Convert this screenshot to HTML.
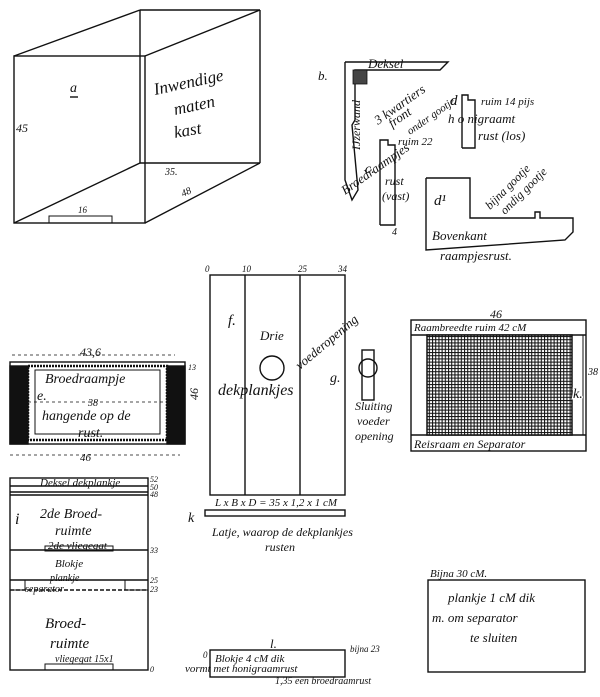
<!DOCTYPE html>
<html><head><style>
body{margin:0;background:#fff;}
svg text{font-family:"Liberation Serif",serif;font-style:italic;fill:#111;}
</style></head><body>
<svg width="600" height="692" viewBox="0 0 600 692" xmlns="http://www.w3.org/2000/svg" stroke="#111" fill="none" stroke-width="1.4">
<defs>
<pattern id="g" width="3.2" height="3.2" patternUnits="userSpaceOnUse">
<rect width="3.2" height="3.2" fill="#fff" stroke="none"/>
<path d="M0 0.5H3.2M0.5 0V3.2" stroke="#111" stroke-width="1.1"/>
</pattern>
</defs>
<!-- box a -->
<rect x="14" y="56" width="131" height="167"/>
<line x1="14" y1="56" x2="140" y2="10"/>
<line x1="140" y1="10" x2="260" y2="10"/>
<line x1="140" y1="10" x2="140" y2="163"/>
<line x1="145" y1="56" x2="260" y2="10"/>
<line x1="260" y1="10" x2="260" y2="163"/>
<line x1="145" y1="223" x2="260" y2="163"/>
<line x1="140" y1="163" x2="260" y2="163"/>
<line x1="14" y1="223" x2="140" y2="163"/>
<rect x="49" y="216" width="63" height="7" stroke-width="1"/>
<g stroke="none" font-size="14">
<text x="70" y="92">a</text><line x1="70" y1="97" x2="78" y2="97" stroke="#111"/>
<text x="16" y="132" font-size="12">45</text>
<text x="155" y="95" font-size="17" transform="rotate(-12 155 95)">Inwendige</text>
<text x="175" y="115" font-size="17" transform="rotate(-12 175 115)">maten</text>
<text x="175" y="138" font-size="17" transform="rotate(-10 175 138)">kast</text>
<text x="165" y="175" font-size="10">35.</text><text x="183" y="197" font-size="10" transform="rotate(-25 183 197)">48</text><text x="78" y="213" font-size="9">16</text>
</g>
<!-- c / d region -->
<polyline points="345,62 448,62 440,70 355,70 355,120 352,125 358,190 352,200 345,180 345,62"/>
<rect x="353" y="70" width="14" height="14" fill="#444" stroke-width="0.8"/>
<polyline points="380,225 380,140 388,140 388,145 395,145 395,225 380,225"/>
<polyline points="462,148 462,95 468,95 468,100 475,100 475,148 462,148"/>
<polyline points="426,178 426,250 565,240 573,232 573,218 540,218 540,212 535,212 535,218 470,218 470,178 426,178"/>
<g stroke="none">
<text x="368" y="68" font-size="13">Deksel</text>
<text x="318" y="80" font-size="13">b.</text>
<text x="360" y="150" font-size="12" transform="rotate(-90 360 150)">IJzerwand</text>
<text x="378" y="125" font-size="13" transform="rotate(-35 378 125)">3 kwartiers</text>
<text x="392" y="128" font-size="13" transform="rotate(-35 392 128)">front</text>
<text x="410" y="135" font-size="11" transform="rotate(-35 410 135)">onder gootje</text>
<text x="398" y="145" font-size="11">ruim 22</text>
<text x="365" y="173" font-size="14">c.</text>
<text x="345" y="195" font-size="13" transform="rotate(-35 345 195)">Broedraampjes</text>
<text x="385" y="185" font-size="12">rust</text><text x="382" y="200" font-size="12">(vast)</text>
<text x="481" y="105" font-size="11">ruim 14 pijs</text>
<text x="450" y="105" font-size="15">d</text>
<text x="448" y="123" font-size="13">h o nigraamt</text>
<text x="478" y="140" font-size="13">rust (los)</text>
<text x="434" y="205" font-size="15">d¹</text>
<text x="490" y="210" font-size="12" transform="rotate(-45 490 210)">bijna gootje</text>
<text x="505" y="215" font-size="12" transform="rotate(-45 505 215)">ondig gootje</text>
<text x="432" y="240" font-size="13">Bovenkant</text>
<text x="440" y="260" font-size="13">raampjesrust.</text>
<text x="392" y="235" font-size="10">4</text>
</g>
<!-- f -->
<rect x="210" y="275" width="135" height="220"/>
<line x1="245" y1="275" x2="245" y2="495"/><line x1="300" y1="275" x2="300" y2="495"/>
<circle cx="272" cy="368" r="12"/>
<g stroke="none">
<text x="205" y="272" font-size="9">0</text><text x="242" y="272" font-size="9">10</text><text x="298" y="272" font-size="9">25</text><text x="338" y="272" font-size="9">34</text>
<text x="228" y="325" font-size="15">f.</text><text x="198" y="400" font-size="12" transform="rotate(-90 198 400)">46</text>
<text x="260" y="340" font-size="13">Drie</text>
<text x="218" y="395" font-size="16">dekplankjes</text>
<text x="300" y="370" font-size="13" transform="rotate(-40 300 370)">voederopening</text>
<text x="330" y="382" font-size="14">g.</text>
<text x="355" y="410" font-size="12">Sluiting</text><text x="357" y="425" font-size="12">voeder</text><text x="355" y="440" font-size="12">opening</text>
</g>
<rect x="362" y="350" width="12" height="50"/><circle cx="368" cy="368" r="9"/>
<!-- grid panel -->
<rect x="411" y="320" width="175" height="131"/>
<line x1="411" y1="335" x2="586" y2="335"/><line x1="411" y1="435" x2="586" y2="435"/>
<rect x="427" y="335" width="145" height="100" fill="url(#g)" stroke-width="1.5"/>
<line x1="583" y1="335" x2="583" y2="435" stroke-width="1"/>
<g stroke="none"><text x="490" y="318" font-size="12">46</text>
<text x="414" y="331" font-size="11">Raambreedte ruim 42 cM</text>
<text x="414" y="448" font-size="12">Reisraam en Separator</text>
<text x="573" y="398" font-size="14" style="paint-order:stroke" stroke="#fff" stroke-width="3">k.</text><text x="588" y="375" font-size="10">38</text></g>
<!-- e -->
<rect x="10" y="362" width="175" height="82"/>
<rect x="10" y="366" width="18" height="78" fill="#111"/><rect x="167" y="366" width="18" height="78" fill="#111"/>
<rect x="28" y="366" width="139" height="74" stroke-width="2.5" stroke-dasharray="2 1"/>
<rect x="35" y="370" width="125" height="64" stroke-width="1"/>
<line x1="28" y1="402" x2="167" y2="402" stroke-dasharray="3 3" stroke-width="0.8"/>
<line x1="12" y1="355" x2="175" y2="355" stroke-dasharray="3 3" stroke-width="0.8"/>
<line x1="10" y1="455" x2="180" y2="455" stroke-dasharray="3 3" stroke-width="0.8"/>
<g stroke="none">
<text x="80" y="356" font-size="12">43,6</text>
<text x="45" y="383" font-size="14">Broedraampje</text><text x="37" y="400" font-size="14">e.</text>
<text x="88" y="406" font-size="10">38</text>
<text x="42" y="420" font-size="14">hangende op de</text><text x="78" y="437" font-size="14">rust.</text>
<text x="80" y="461" font-size="11">46</text><text x="188" y="370" font-size="8">13</text>
</g>
<!-- i -->
<rect x="10" y="478" width="138" height="192"/>
<line x1="10" y1="486" x2="148" y2="486"/><line x1="10" y1="492" x2="148" y2="492"/><line x1="10" y1="495" x2="148" y2="495"/>
<line x1="10" y1="550" x2="148" y2="550"/><rect x="45" y="546" width="68" height="5" stroke-width="1"/>
<line x1="10" y1="580" x2="148" y2="580"/><line x1="10" y1="590" x2="148" y2="590" stroke-dasharray="4 2"/>
<rect x="10" y="580" width="15" height="10" stroke-width="1"/><rect x="125" y="580" width="23" height="10" stroke-width="1"/>
<rect x="45" y="664" width="68" height="6" stroke-width="1"/>
<g stroke="none">
<text x="40" y="486" font-size="11">Deksel dekplankje</text>
<text x="15" y="524" font-size="16">i</text><text x="40" y="518" font-size="14">2de Broed-</text><text x="55" y="535" font-size="14">ruimte</text>
<text x="48" y="549" font-size="11">2de vliegegat</text><text x="55" y="567" font-size="11">Blokje</text>
<text x="50" y="581" font-size="10">plankje</text><text x="25" y="592" font-size="10">separator</text>
<text x="45" y="628" font-size="15">Broed-</text><text x="50" y="648" font-size="15">ruimte</text>
<text x="55" y="662" font-size="10">vliegegat 15x1</text>
<g font-size="8"><text x="150" y="482">52</text><text x="150" y="490">50</text><text x="150" y="497">48</text><text x="150" y="553">33</text><text x="150" y="583">25</text><text x="150" y="592">23</text><text x="150" y="672">0</text></g>
</g>
<!-- k -->
<rect x="205" y="510" width="140" height="6"/>
<g stroke="none"><text x="188" y="522" font-size="14">k</text>
<text x="215" y="506" font-size="11">L x B x D = 35 x 1,2 x 1 cM</text>
<text x="212" y="536" font-size="12">Latje, waarop de dekplankjes</text><text x="265" y="551" font-size="12">rusten</text></g>
<!-- l -->
<rect x="210" y="650" width="135" height="27"/>
<g stroke="none"><text x="270" y="648" font-size="13">l.</text>
<text x="215" y="662" font-size="11">Blokje 4 cM dik</text><text x="185" y="672" font-size="11">vormt met honigraamrust</text>
<text x="275" y="684" font-size="10">1,35 een broedraamrust</text><text x="350" y="652" font-size="9">bijna 23</text>
<text x="203" y="658" font-size="9">0</text></g>
<!-- m -->
<rect x="428" y="580" width="157" height="92"/>
<g stroke="none"><text x="430" y="577" font-size="11">Bijna 30 cM.</text>
<text x="448" y="602" font-size="13">plankje 1 cM dik</text>
<text x="432" y="622" font-size="13">m. om separator</text><text x="470" y="642" font-size="13">te sluiten</text></g>
</svg>
</body></html>
